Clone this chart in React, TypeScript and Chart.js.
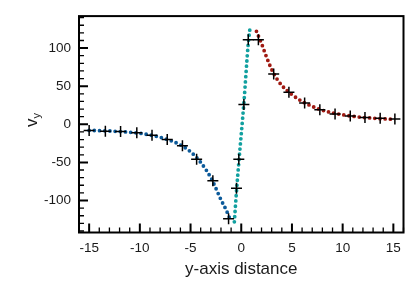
import React, { useEffect, useRef } from "react";
import { Chart, registerables } from "chart.js";

Chart.register(...registerables);

// Axis tick labels
const xTicks = [-15, -10, -5, 0, 5, 10, 15];
const yTicks = [-100, -50, 0, 50, 100];

// Measured data (crosses)
const crossX = [-15, -13.4, -11.9, -10.3, -8.8, -7.3, -5.8, -4.4, -2.8, -1.25, -0.47, -0.24, 0.26, 0.69, 1.69, 3.2, 4.7, 6.25, 7.75, 9.25, 10.75, 12.2, 13.7, 15.15];
const crossY = [-8, -9, -9.5, -11, -14.5, -20, -28, -46, -74, -124, -84, -46, 26, 111, 111, 66, 42, 28, 19, 13.5, 11, 9, 8, 7];

// Fitted curve, left branch (blue)
const blueX = [-15, -13.5, -12, -10.5, -9, -7.5, -6, -5, -4, -3, -2.5, -2, -1.5, -1.15];
const blueY = [-8, -8.5, -9.5, -11, -14, -19, -27, -36, -50, -70, -84, -99, -112, -123];

// Fitted curve, center branch (teal)
const tealX = [-0.68, -0.47, -0.24, 0.26, 0.69, 0.86];
const tealY = [-128, -88, -50, 28, 106, 126];

// Fitted curve, right branch (red)
const redX = [1.5, 2, 2.5, 3, 3.5, 4, 5, 6, 7, 8, 9, 10, 11, 12, 13, 14, 15];
const redY = [122, 106, 88, 72, 60, 51, 39, 30, 23.5, 18.5, 15, 12.5, 10.5, 9, 8, 7.2, 6.5];

const FONT = "'Liberation Sans', Arial, Helvetica, sans-serif";

const toPts = (xs: number[], ys: number[]) => xs.map((x, i) => ({ x, y: ys[i] }));

const framePlugin = {
  id: "framePlugin",
  afterDraw(chart: any) {
    const ctx = chart.ctx as CanvasRenderingContext2D;
    const { left, right, top, bottom } = chart.chartArea;
    const xs = chart.scales.x;
    const ys = chart.scales.y;
    ctx.save();
    ctx.strokeStyle = "#000";
    ctx.lineCap = "butt";
    // minor ticks
    ctx.lineWidth = 1.3;
    ctx.beginPath();
    for (let v = Math.ceil(xs.min); v <= xs.max; v++) {
      if (v % 5 === 0) continue;
      const p = xs.getPixelForValue(v);
      ctx.moveTo(p, bottom);
      ctx.lineTo(p, bottom - 5);
    }
    for (let v = Math.ceil(ys.min / 10) * 10; v <= ys.max; v += 10) {
      if (v % 50 === 0) continue;
      const p = ys.getPixelForValue(v);
      ctx.moveTo(left, p);
      ctx.lineTo(left + 5, p);
    }
    ctx.stroke();
    // major ticks
    ctx.lineWidth = 2;
    ctx.beginPath();
    xTicks.forEach((v) => {
      const p = xs.getPixelForValue(v);
      ctx.moveTo(p, bottom);
      ctx.lineTo(p, bottom - 9);
    });
    yTicks.forEach((v) => {
      const p = ys.getPixelForValue(v);
      ctx.moveTo(left, p);
      ctx.lineTo(left + 9, p);
    });
    ctx.stroke();
    // frame
    ctx.lineWidth = 2;
    ctx.strokeRect(left, top, right - left, bottom - top);
    // x title
    ctx.fillStyle = "#1a1a1a";
    ctx.font = `17px ${FONT}`;
    ctx.textAlign = "center";
    ctx.textBaseline = "middle";
    ctx.fillText("y-axis distance", (left + right) / 2, 269);
    // y title v_y (rotated)
    ctx.translate(36.7, 120);
    ctx.rotate(-Math.PI / 2);
    ctx.textAlign = "left";
    ctx.textBaseline = "alphabetic";
    ctx.font = `17px ${FONT}`;
    const wv = ctx.measureText("v").width;
    ctx.fillText("v", -7, 0);
    ctx.font = `11px ${FONT}`;
    ctx.fillText("y", -7 + wv, 3);
    ctx.restore();
  },
};

export default function App() {
  const ref = useRef<HTMLCanvasElement | null>(null);
  useEffect(() => {
    if (!ref.current) return;
    const line = (xs: number[], ys: number[], color: string) => ({
      data: toPts(xs, ys),
      showLine: true,
      borderColor: color,
      backgroundColor: color,
      borderWidth: 3.8,
      borderDash: [0, 5.2],
      borderCapStyle: "round" as const,
      pointRadius: 0,
      cubicInterpolationMode: "monotone" as const,
    });
    const chart = new Chart(ref.current, {
      type: "scatter",
      data: {
        datasets: [
          {
            data: toPts(crossX, crossY),
            pointStyle: "cross",
            pointRadius: 5.5,
            pointBorderWidth: 1.5,
            borderColor: "#000",
            backgroundColor: "#000",
            showLine: false,
          } as any,
          line(blueX, blueY, "#0c5a9a") as any,
          line(tealX, tealY, "#12a0a0") as any,
          line(redX, redY, "#a01a12") as any,
        ],
      },
      options: {
        animation: false,
        responsive: false,
        maintainAspectRatio: false,
        events: [],
        layout: { padding: { left: 0, top: 10, right: 9.5, bottom: 0 } },
        plugins: { legend: { display: false }, tooltip: { enabled: false } },
        scales: {
          x: {
            type: "linear",
            min: -16,
            max: 16,
            grid: { display: false, drawTicks: false },
            border: { display: false },
            afterBuildTicks: (s: any) => {
              s.ticks = xTicks.map((v) => ({ value: v }));
            },
            afterFit: (s: any) => {
              s.height = 294 - 232.5;
            },
            ticks: {
              padding: 8,
              color: "#1a1a1a",
              font: { family: FONT, size: 13.5 },
              maxRotation: 0,
              autoSkip: false,
            },
          },
          y: {
            type: "linear",
            min: -142,
            max: 142,
            grid: { display: false, drawTicks: false },
            border: { display: false },
            afterBuildTicks: (s: any) => {
              s.ticks = yTicks.map((v) => ({ value: v }));
            },
            afterFit: (s: any) => {
              s.width = 79;
            },
            ticks: {
              padding: 8,
              color: "#1a1a1a",
              font: { family: FONT, size: 13.5 },
              autoSkip: false,
            },
          },
        },
      },
      plugins: [framePlugin],
    });
    return () => chart.destroy();
  }, []);
  return (
    <div style={{ position: "fixed", left: 0, top: 0, width: 413, height: 294, background: "#fff" }}>
      <canvas ref={ref} width={413} height={294} style={{ width: 413, height: 294, display: "block" }} />
    </div>
  );
}
